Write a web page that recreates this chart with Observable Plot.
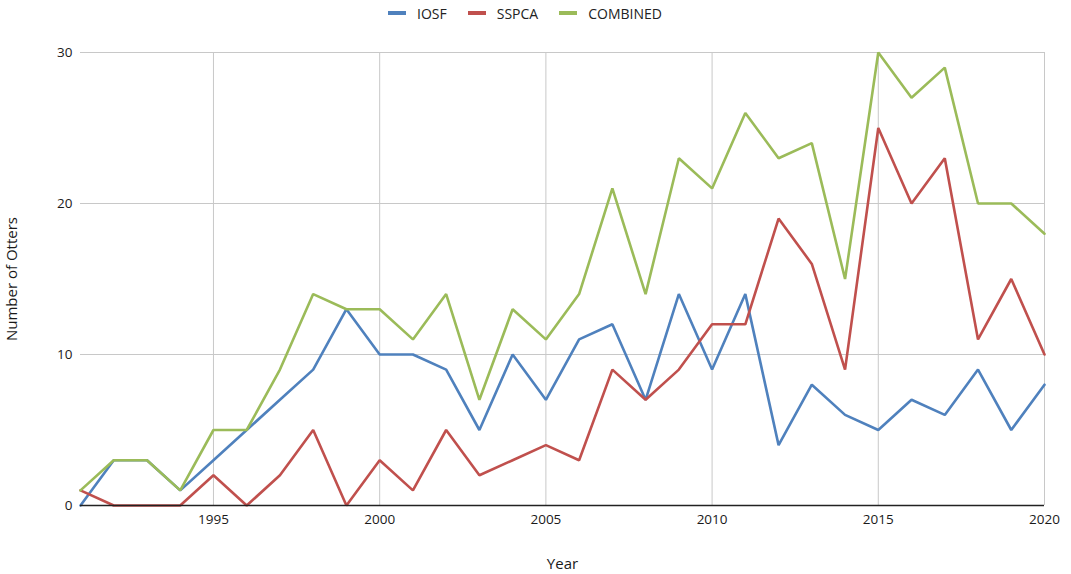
<!DOCTYPE html>
<html>
<head>
<meta charset="utf-8">
<script src="https://cdn.jsdelivr.net/npm/d3@7"></script>
<script src="https://cdn.jsdelivr.net/npm/@observablehq/plot@0.6"></script>
<style>
  html, body { margin: 0; padding: 0; background: #fff; }
  body { width: 1071px; height: 574px; overflow: hidden; font-family: "Open Sans", sans-serif; }
  #legend { height: 28px; display: flex; justify-content: center; align-items: center; gap: 21px; font-size: 14px; font-weight: 500; color: #222; padding-right: 21px; padding-bottom: 2px; box-sizing: border-box; }
  #legend .item { display: flex; align-items: center; gap: 11px; }
  #legend .sw { width: 18px; height: 4px; display: inline-block; }
  svg { display: block; }
</style>
</head>
<body>
<div id="legend"></div>
<div id="chart"></div>
<script>
const years = [1991,1992,1993,1994,1995,1996,1997,1998,1999,2000,2001,2002,2003,2004,2005,2006,2007,2008,2009,2010,2011,2012,2013,2014,2015,2016,2017,2018,2019,2020];
const iosf     = [0,3,3,1,3,5,7,9,13,10,10,9,5,10,7,11,12,7,14,9,14,4,8,6,5,7,6,9,5,8];
const sspca    = [1,0,0,0,2,0,2,5,0,3,1,5,2,3,4,3,9,7,9,12,12,19,16,9,25,20,23,11,15,10];
const combined = [1,3,3,1,5,5,9,14,13,13,11,14,7,13,11,14,21,14,23,21,26,23,24,15,30,27,29,20,20,18];
const seriesNames = ["IOSF", "SSPCA", "COMBINED"];
const seriesColors = ["#4f81bd", "#c0504d", "#9bbb59"];
const xTicks = [1995, 2000, 2005, 2010, 2015, 2020];
const yTicks = [0, 10, 20, 30];

const seriesValues = [iosf, sspca, combined];
const data = [];
seriesNames.forEach((name, i) => {
  years.forEach((yr, j) => data.push({series: name, year: yr, value: seriesValues[i][j]}));
});

// legend
const legend = document.getElementById("legend");
seriesNames.forEach((name, i) => {
  const it = document.createElement("div");
  it.className = "item";
  it.innerHTML = `<span class="sw" style="background:${seriesColors[i]}"></span><span>${name}</span>`;
  legend.appendChild(it);
});

const chart = Plot.plot({
  width: 1071,
  height: 546,
  marginTop: 24,
  marginBottom: 69,
  marginLeft: 80,
  marginRight: 27,
  style: { fontFamily: '"Open Sans", sans-serif', fontSize: "13px", color: "#1a1a1a", background: "#fff" },
  x: { domain: [1991, 2020] },
  y: { domain: [0, 30] },
  color: { domain: seriesNames, range: seriesColors },
  marks: [
    Plot.ruleX(xTicks, { stroke: "#c8c8c8", strokeWidth: 1 }),
    Plot.ruleY(yTicks.filter(d => d > 0), { stroke: "#c8c8c8", strokeWidth: 1 }),
    Plot.axisX({ ticks: xTicks, tickFormat: d => String(d), tickSize: 0, tickPadding: 9, label: null, fontSize: 13.5, fontWeight: 500 }),
    Plot.axisX({ ticks: [], tickSize: 0, label: "Year", labelAnchor: "center", labelArrow: "none", labelOffset: 63, fontSize: 15, fontWeight: 500 }),
    Plot.axisY({ ticks: yTicks, tickSize: 0, tickPadding: 8, label: null, fontSize: 13.5, fontWeight: 500 }),
    Plot.axisY({ ticks: [], tickSize: 0, label: "Number of Otters", labelAnchor: "center", labelArrow: "none", labelOffset: 74, fontSize: 15, fontWeight: 500 }),
    Plot.line(data, { x: "year", y: "value", z: "series", stroke: "series", strokeWidth: 2.6, strokeLinejoin: "miter" }),
    Plot.ruleY([0], { stroke: "#222", strokeWidth: 1.5 })
  ]
});
document.getElementById("chart").appendChild(chart);
</script>
</body>
</html>
